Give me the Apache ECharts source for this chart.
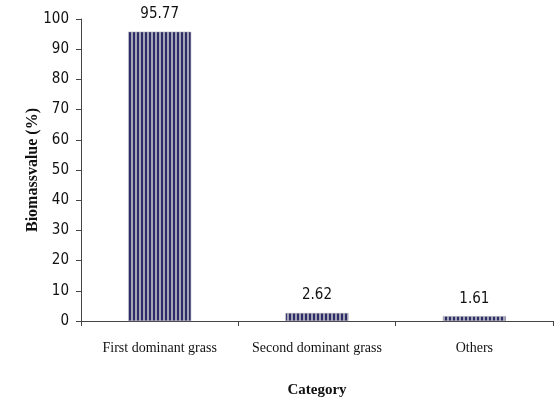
<!DOCTYPE html>
<html><head><meta charset="utf-8">
<script src="https://cdn.jsdelivr.net/npm/echarts@6/dist/echarts.min.js"></script>
<style>html,body{margin:0;padding:0;background:#fff}#c{width:557px;height:403px}</style>
</head><body><div id="c"></div>
<script>
var categories = ['First dominant grass', 'Second dominant grass', 'Others'];
var values = [95.77, 2.62, 1.61];
var yTicks = [0, 10, 20, 30, 40, 50, 60, 70, 80, 90, 100];

var pc = document.createElement('canvas');
pc.width = 4; pc.height = 4;
var ctx = pc.getContext('2d');
ctx.fillStyle = '#a4a4b4'; ctx.fillRect(0, 0, 4, 4);
ctx.fillStyle = '#2c2c68'; ctx.fillRect(1, 0, 2, 4);

var chart = echarts.init(document.getElementById('c'));
var narrow = "'Liberation Sans Narrow', 'DejaVu Sans Condensed', sans-serif";
var serif = "'Liberation Serif', 'DejaVu Serif', serif";
chart.setOption({
  animation: false,
  grid: { left: 81, right: 4, top: 19, bottom: 82 },
  xAxis: {
    type: 'category', data: categories,
    axisLine: { lineStyle: { color: '#444', width: 1 } },
    axisTick: { show: true, length: 5, lineStyle: { color: '#444' } },
    axisLabel: { color: '#111', fontFamily: serif, fontSize: 14, margin: 20, interval: 0 },
    name: 'Category', nameLocation: 'middle', nameGap: 62,
    nameTextStyle: { color: '#111', fontFamily: serif, fontSize: 15, fontWeight: 'bold' }
  },
  yAxis: {
    type: 'value', min: 0, max: 100, interval: 10,
    axisLine: { show: true, lineStyle: { color: '#444' } },
    axisTick: { show: true, length: 5, lineStyle: { color: '#444' } },
    splitLine: { show: false },
    axisLabel: { color: '#111', fontFamily: narrow, fontSize: 15, margin: 12,
      formatter: function (v) { return yTicks.indexOf(v) >= 0 ? String(v) : ''; } },
    name: 'Biomassvalue (%)', nameLocation: 'middle', nameGap: 40, nameRotate: 90,
    nameMoveOverlap: false,
    nameTextStyle: { color: '#111', fontFamily: serif, fontSize: 16, fontWeight: 'bold' }
  },
  series: [{
    type: 'bar', data: values, barWidth: '40%',
    itemStyle: { color: { image: pc, repeat: 'repeat' }, borderColor: '#9a9aaa', borderWidth: 0.5 },
    label: { show: true, position: 'top', distance: 10, color: '#111', fontFamily: narrow, fontSize: 15,
      formatter: function (p) { return p.value.toFixed(2); } }
  }]
});
</script></body></html>
